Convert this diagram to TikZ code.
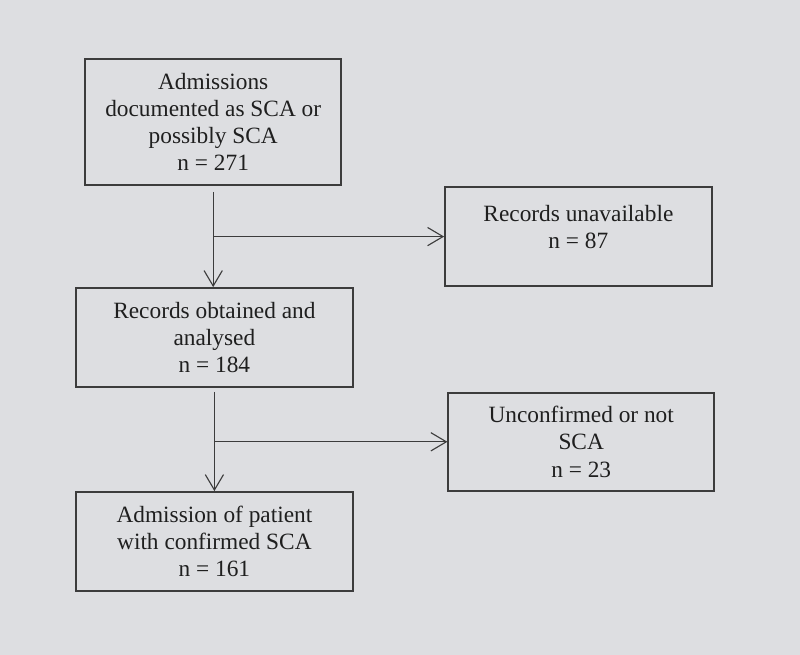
\documentclass[tikz,border=0pt]{standalone}
\usepackage{fontspec}
\setmainfont{Liberation Serif}
\usetikzlibrary{arrows.meta}
\definecolor{bggray}{RGB}{221,222,225}
\definecolor{linegray}{RGB}{60,60,60}
\begin{document}
\begin{tikzpicture}[
        box/.style={draw=linegray,line width=1.1pt,align=center,text=black!88,
            font=\fontsize{16.6}{19.3}\selectfont},
        flow/.style={draw=linegray,line width=0.8pt,-{Straight Barb[length=11pt,width=13pt]}}]
        \fill[bggray] (0,0) rectangle (20,16.375);
        \node[box,minimum width=6.4cm,minimum height=3.15cm] (adm) at (5.33,13.33) {Admissions\\documented as SCA or\\possibly SCA\\n = 271};
        \node[box,minimum width=6.675cm,minimum height=2.475cm,text depth=0.5cm] (unav) at (14.46,10.46) {Records unavailable\\n = 87};
        \node[box,minimum width=6.925cm,minimum height=2.475cm] (rec) at (5.36,7.94) {Records obtained and\\analysed\\n = 184};
        \node[box,minimum width=6.65cm,minimum height=2.45cm] (unconf) at (14.53,5.33) {Unconfirmed or not\\SCA\\n = 23};
        \node[box,minimum width=6.925cm,minimum height=2.475cm] (conf) at (5.36,2.84) {Admission of patient\\with confirmed SCA\\n = 161};
        \draw[flow] ([yshift=-4.5pt]adm.south) -- (adm.south |- rec.north);
        \draw[flow] (adm.south |- unav.west) -- (unav.west);
        \draw[flow] ([yshift=-3pt]rec.south) -- (rec.south |- conf.north);
        \draw[flow] (rec.south |- unconf.west) -- (unconf.west);
    \end{tikzpicture}
\end{document}
